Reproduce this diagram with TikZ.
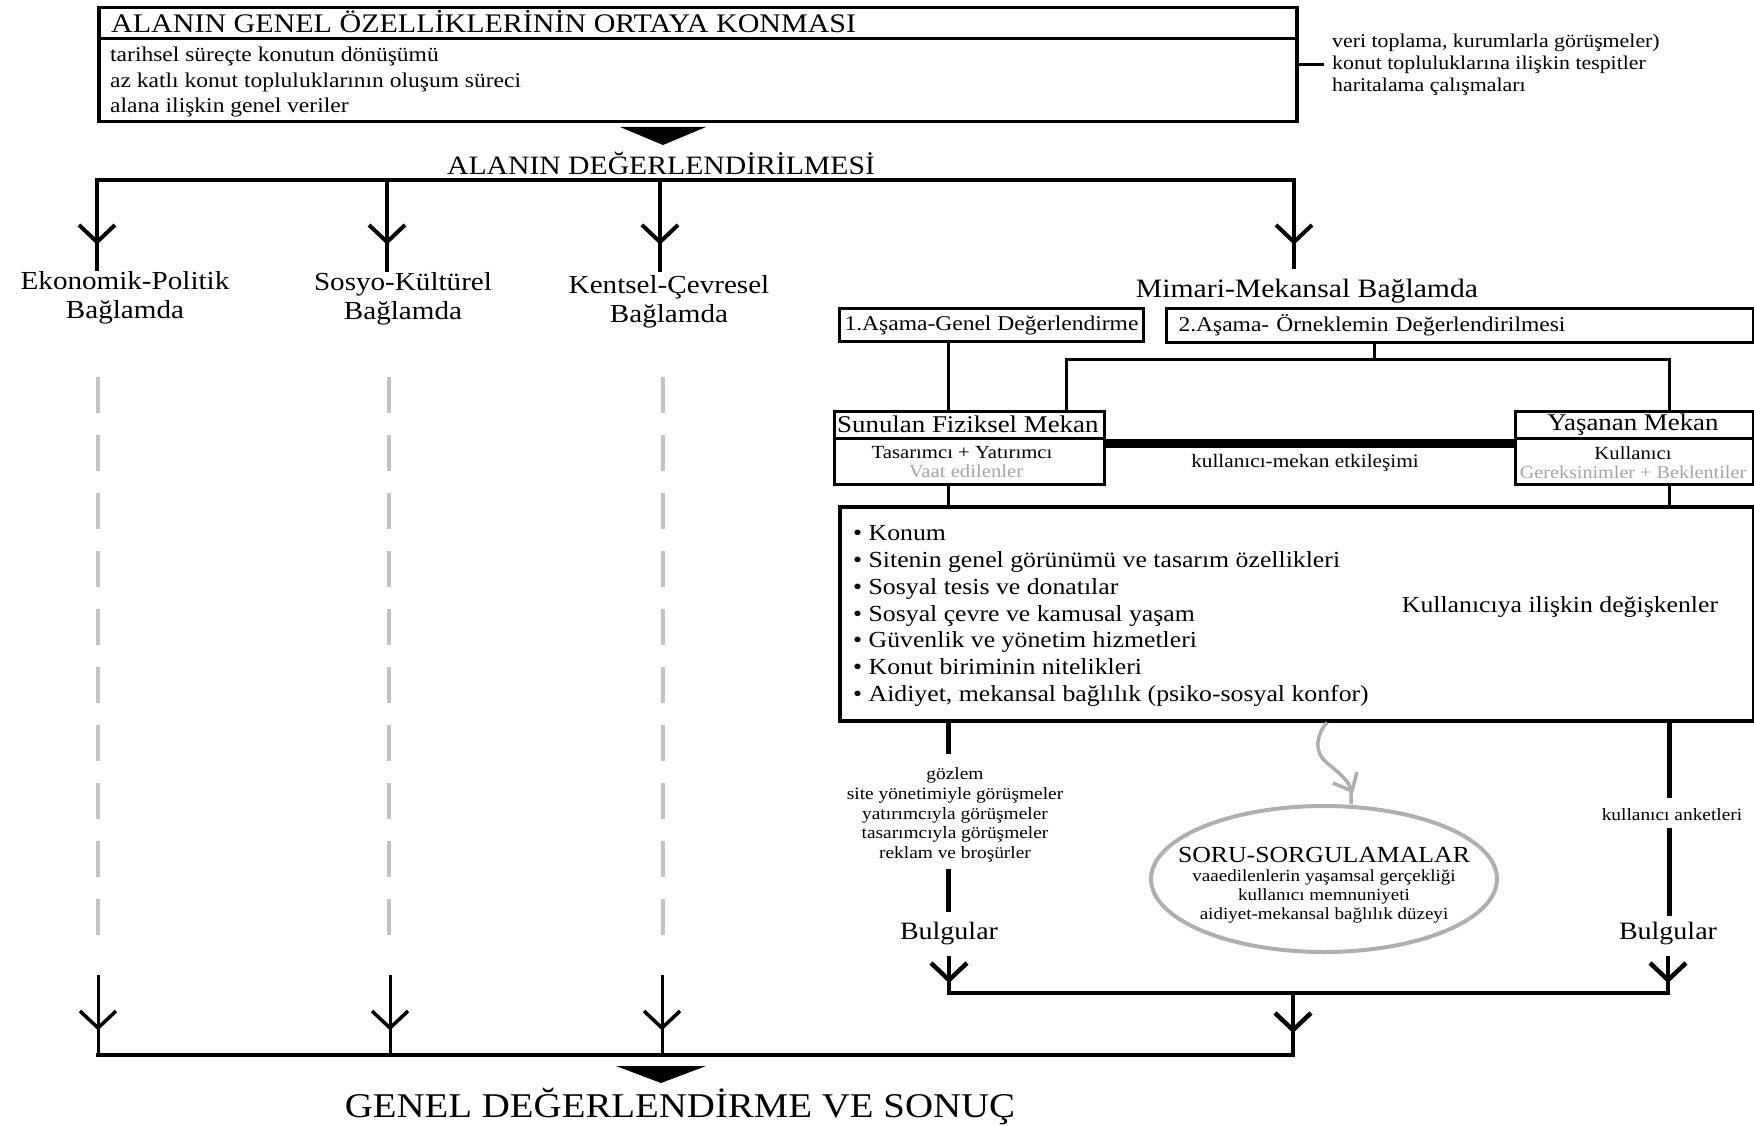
\documentclass[tikz,border=0pt]{standalone}
\usepackage{fontspec}
\setmainfont{Liberation Serif}[FakeStretch=1.12]
\usetikzlibrary{shapes.geometric,calc}
\definecolor{dashgray}{RGB}{195,195,195}
\definecolor{ellgray}{RGB}{175,175,175}
\definecolor{txtgray}{RGB}{165,165,165}
\newcommand\myfs[2]{\fontsize{#1}{#2}\selectfont}
\newcommand\vhead[2][4]{\draw[line width=#1pt, line join=miter, miter limit=10] ($(#2)+(-18,-17)$) -- (#2) -- ($(#2)+(18,-17)$);}
\begin{document}
\begin{tikzpicture}[x=1pt,y=-1pt,
  box/.style={draw, line width=3pt, inner sep=0pt, anchor=north west},
  conn/.style={line width=3pt},
  bar/.style={line width=4.5pt, line cap=rect},
  lbl/.style={align=center, inner sep=0pt, font=\myfs{26}{29}},
  dashline/.style={dashgray, line width=4pt, dash pattern=on 36pt off 22pt},
  txt/.style={inner sep=0pt}]
\fill[white] (0,0) rectangle (1754,1126);
\useasboundingbox (0,0) rectangle (1754,1126);

% ---------- top box ----------
\node[box, line width=3.5pt, minimum width=1198pt, minimum height=114pt] (top) at (97,6) {};
\draw[conn] (top.west |- 0,39) -- (top.east |- 0,39);
\node[txt, anchor=base west, font=\myfs{26.8}{30}] (ttl) at (111,33) {ALANIN GENEL ÖZELLİKLERİNİN ORTAYA KONMASI};
\node[txt, anchor=base west, font=\myfs{21}{26}] (tb1) at (110,62) {tarihsel süreçte konutun dönüşümü};
\node[txt, anchor=base west, font=\myfs{21}{26}] (tb2) at (110,88) {az katlı konut topluluklarının oluşum süreci};
\node[txt, anchor=base west, font=\myfs{21}{26}] (tb3) at (110,113) {alana ilişkin genel veriler};
\node[txt, anchor=west, align=left, font=\myfs{19.5}{22.3}] (notes) at (1332,65) {veri toplama, kurumlarla görüşmeler)\\konut topluluklarına ilişkin tespitler\\haritalama çalışmaları};
\draw[conn] (notes.west -| top.east) -- ([xshift=-8pt]notes.west);

\fill (620,127) -- (706,127) -- (663,145) -- cycle;
\node[txt, anchor=base, font=\myfs{26.5}{30}] (deg) at (661,175) {ALANIN DEĞERLENDİRİLMESİ};

% ---------- branches ----------
\coordinate (b1) at (97,180);
\coordinate (b2) at (387,180);
\coordinate (b3) at (660,180);
\coordinate (b4) at (1294,180);
\node[lbl] (ek) at (125,298) {Ekonomik-Politik\\Bağlamda};
\node[lbl] (so) at (403,299) {Sosyo-Kültürel\\Bağlamda};
\node[lbl] (ke) at (669,302) {Kentsel-Çevresel\\Bağlamda};
\node[txt, anchor=base, font=\myfs{26.5}{30}] (mm) at (1307,297) {Mimari-Mekansal Bağlamda};
\draw[bar] (b1) -- (b4);
\draw[line width=4pt] (b1) -- (b1 |- ek.north);
\draw[line width=4pt] (b2) -- (b2 |- so.north);
\draw[line width=4pt] (b3) -- ([yshift=3pt]b3 |- ke.north);
\draw[line width=4pt] (b4) -- ([yshift=9pt]b4 |- mm.north);
\vhead{97,242}
\vhead{387,242}
\vhead{660,242}
\vhead{1294,242}

% ---------- dashed lines ----------
\draw[dashline] (98,377) -- (98,955);
\draw[dashline] (389,377) -- (389,955);
\draw[dashline] (663,377) -- (663,955);

% ---------- Mimari boxes ----------
\node[box, minimum width=304pt, minimum height=33pt, font=\myfs{21}{24}] (a1) at (838,307) {1.Aşama-Genel Değerlendirme};
\node[box, minimum width=587pt, minimum height=34pt, inner xsep=12pt, text width=563pt, align=left, font=\myfs{21}{24}] (a2) at (1165,307) {2.Aşama- Örneklemin Değerlendirilmesi};

\node[box, minimum width=270pt, minimum height=73pt] (sf) at (833,410) {};
\node[box, minimum width=238pt, minimum height=73pt] (ym) at (1514,410) {};
\draw[conn] (sf.west |- 0,438) -- (sf.east |- 0,438);
\draw[conn] (ym.west |- 0,438) -- (ym.east |- 0,438);
\node[txt, anchor=west, font=\myfs{24}{28}] (sft) at (837,424) {Sunulan Fiziksel Mekan};
\node[txt, font=\myfs{24}{28}] (ymt) at (1633,425) {Yaşanan Mekan};
\node[txt, font=\myfs{18.5}{20}] (sf2) at (962,453) {Tasarımcı + Yatırımcı};
\node[txt, font=\myfs{18.5}{20}, text=txtgray] (sf3) at (966,471) {Vaat edilenler};
\node[txt, font=\myfs{18.5}{20}] (ym2) at (1633,453) {Kullanıcı};
\node[txt, font=\myfs{18}{20}, text=txtgray] (ym3) at (1633,472) {Gereksinimler + Beklentiler};

\draw[line width=9pt] (sf.east |- 0,443) -- (ym.west |- 0,443);
\node[txt, font=\myfs{19}{22}] (kme) at (1305,463) {kullanıcı-mekan etkileşimi};

\coordinate (c1) at (948,0);
\coordinate (j2) at (1374,359);
\coordinate (jl) at (1066,359);
\coordinate (jr) at (1669,359);
\draw[conn] (a1.south -| c1) -- (sf.north -| c1);
\draw[conn] (a2.south -| j2) -- (j2);
\draw[conn] (sf.north -| jl) -- (jl) -- (jr) -- (ym.north -| jr);

% ---------- list box ----------
\node[box, line width=3.5pt, minimum width=914pt, minimum height=214pt] (list) at (838,505) {};
\draw[conn] (sf.south -| c1) -- (list.north -| c1);
\draw[conn] (ym.south -| jr) -- (list.north -| jr);
\node[txt, anchor=west, align=left, font=\myfs{23}{26.9}] (items) at (853,616) {• Konum\\• Sitenin genel görünümü ve tasarım özellikleri\\• Sosyal tesis ve donatılar\\• Sosyal çevre ve kamusal yaşam\\• Güvenlik ve yönetim hizmetleri\\• Konut biriminin nitelikleri\\• Aidiyet, mekansal bağlılık (psiko-sosyal konfor)};
\node[txt, font=\myfs{23}{26}] (kid) at (1560,607) {Kullanıcıya ilişkin değişkenler};

% ---------- lower part ----------
\node[txt, align=center, font=\myfs{17.3}{19.7}] (meth) at (955,815) {gözlem\\site yönetimiyle görüşmeler\\yatırımcıyla görüşmeler\\tasarımcıyla görüşmeler\\reklam ve broşürler};
\node[txt, font=\myfs{25}{28}] (bl) at (949,934) {Bulgular};
\node[txt, font=\myfs{25}{28}] (br) at (1668,934) {Bulgular};
\node[txt, font=\myfs{17.3}{20}] (ka) at (1672,815) {kullanıcı anketleri};
\draw[line width=5pt, shorten >=14pt] (list.south -| c1) -- (meth.north -| c1);
\draw[line width=5pt, shorten <=7pt, shorten >=10pt] (meth.south -| c1) -- (bl.north -| c1);
\draw[line width=5pt, shorten >=11pt] (list.south -| jr) -- (ka.north -| jr);
\draw[line width=5pt, shorten <=7pt, shorten >=6pt] (ka.south -| jr) -- (br.north -| jr);

\coordinate (jb) at (0,993);
\draw[line width=4.5pt, shorten <=10pt, shorten >=10pt] (bl.south) -- (bl.south |- jb) -- (br.south |- jb) -- (br.south);
\vhead[4.5]{949,980}
\vhead[4.5]{1668,980}

% ellipse
\node[ellipse, draw=ellgray, line width=4pt, minimum width=346pt, minimum height=146pt, inner sep=0pt] (soru) at (1324,879) {};
\node[txt, font=\myfs{23}{26}] (st) at (1324,855) {SORU-SORGULAMALAR};
\node[txt, align=center, font=\myfs{17}{19}] (sl) at (1324,896) {vaaedilenlerin yaşamsal gerçekliği\\kullanıcı memnuniyeti\\aidiyet-mekansal bağlılık düzeyi};
\coordinate (cv0) at (1327,0);
\coordinate (cv1) at (1351,0);
\draw[ellgray, line width=3.5pt] (list.south -| cv0) .. controls (1316,735) and (1314,752) .. (1326,762) .. controls (1340,774) and (1351,782) .. (1351,792) -- (soru.north -| cv1);
\draw[ellgray, line width=3.5pt] (1333,783) -- (1352,791) -- (1357,772);

% ---------- bottom ----------
\coordinate (jm) at (1293,993);
\coordinate (g1) at (98,1055);
\coordinate (g2) at (390,1055);
\coordinate (g3) at (662,1055);
\coordinate (g4) at (1293,1055);
\coordinate (f1) at (98,975);
\coordinate (f2) at (390,975);
\coordinate (f3) at (662,975);
\draw[line width=4.5pt] (jm) -- (g4);
\draw[line width=3pt] (f1) -- (g1);
\draw[line width=3pt] (f2) -- (g2);
\draw[line width=3pt] (f3) -- (g3);
\draw[bar] (g1) -- (g4);
\vhead[3.5]{98,1028}
\vhead[3.5]{390,1028}
\vhead[3.5]{662,1028}
\vhead[4.5]{1293,1030}

\fill (616,1066) -- (706,1066) -- (661,1083) -- cycle;
\node[txt, anchor=base, font=\myfs{34.7}{38}] (son) at (680,1117) {GENEL DEĞERLENDİRME VE SONUÇ};
\end{tikzpicture}
\end{document}
